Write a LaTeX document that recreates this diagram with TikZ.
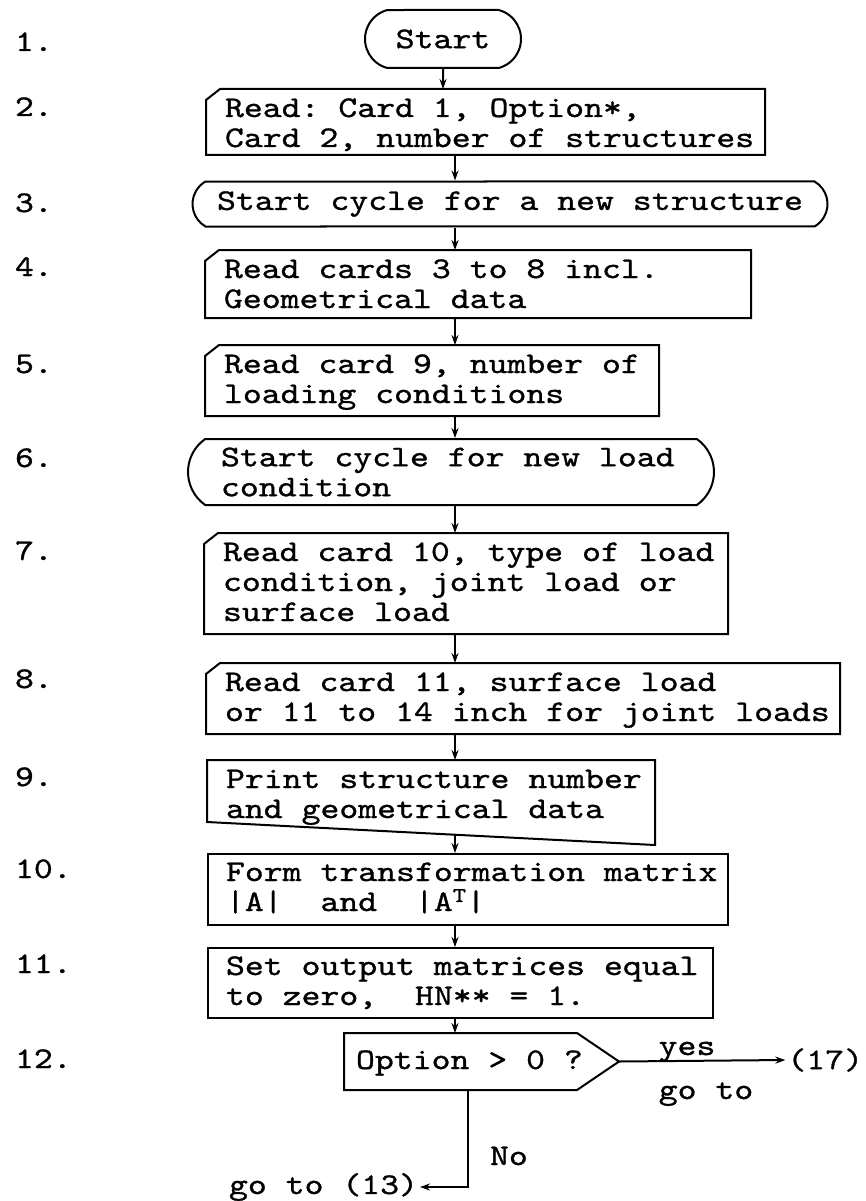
\documentclass[tikz,border=0pt]{standalone}
\usepackage{fontspec}
\setmonofont{lmmono10-regular}[Extension = .otf, FakeStretch = 1.2, FakeBold = 1]
\usetikzlibrary{shapes.misc, arrows.meta}
\tikzstyle{textbox} = [
  rectangle, anchor = north west, align = flush left,
  inner xsep = 0, inner ysep = 0, text height = 27pt,
  execute at begin node = {\leftskip = 18pt\relax}
]
\tikzstyle{box} = [textbox, draw]
\tikzstyle{card} = [
  textbox,
  append after command = {\pgfextra{\draw (\tikzlastnode.north west)
    ++(0pt, -11pt) -- ++(14pt, 11pt) -- (\tikzlastnode.north east) --
    (\tikzlastnode.south east) -- (\tikzlastnode.south west) -- cycle;}}
]
\tikzstyle{printout} = [
  textbox,
  append after command = {\pgfextra{\draw (\tikzlastnode.north west) --
    (\tikzlastnode.north east) -- (\tikzlastnode.south east) --
    ([yshift = 23pt] \tikzlastnode.south west) -- cycle;}}
]
\tikzstyle{terminal} = [
  rounded rectangle, rounded rectangle arc length = 120,
  draw, inner sep = 0
]
\tikzstyle{decision} = [
  rectangle, anchor = north west, align = flush left,
  inner xsep = 0, inner ysep = 0, text height = 35pt, text depth = 20pt,
  execute at begin node = {\leftskip = 11pt\relax},
  append after command = {\pgfextra{\draw (\tikzlastnode.north west) --
    ([xshift = -42pt] \tikzlastnode.north east) -- (\tikzlastnode.east) --
    ([xshift = -42pt] \tikzlastnode.south east) --
    (\tikzlastnode.south west) -- cycle;}}
]
\tikzstyle{steplabel} = [anchor = base west, inner sep = 0]
\tikzstyle{textarea} = [inner sep = 1pt]

\begin{document}
\begin{tikzpicture}[x = 1pt, y = -1pt, line width = 2pt,
    > = {Stealth[length = 10pt, width = 7pt]},
    font = \ttfamily\fontsize{30pt}{30pt}\selectfont]
  \useasboundingbox (0, 0) rectangle (865, 1201);
  \coordinate (spine) at (455, 0);

  % step numbers
  \node [steplabel] (step-1) at (14, 51) {1.};
  \node [steplabel] (step-2) at (14, 116) {2.};
  \node [steplabel] (step-3) at (14, 212) {3.};
  \node [steplabel] (step-4) at (14, 276) {4.};
  \node [steplabel] (step-5) at (14, 373) {5.};
  \node [steplabel] (step-6) at (14, 467) {6.};
  \node [steplabel] (step-7) at (14, 560) {7.};
  \node [steplabel] (step-8) at (14, 688) {8.};
  \node [steplabel] (step-9) at (14, 786) {9.};
  \node [steplabel] (step-10) at (14, 878) {10.};
  \node [steplabel] (step-11) at (14, 973) {11.};
  \node [steplabel] (step-12) at (14, 1068) {12.};

  % 1
  \node [terminal, rounded rectangle arc length = 150,
    minimum width = 156, minimum height = 58] (box-1) at (443, 39) {Start};
  % 2
  \node [card, text width = 557, text depth = 37pt] (box-2) at (206, 89)
    {Read: Card 1, Option*,\\Card 2, number of structures};
  % 3
  \node [terminal, minimum width = 635, minimum height = 45] (box-3)
    at (510, 204) {Start cycle for a new structure};
  % 4
  \node [card, text width = 544, text depth = 39pt] (box-4) at (205, 250)
    {Read cards 3 to 8 incl.\\Geometrical data};
  % 5
  \node [card, text width = 452, text depth = 42pt] (box-5) at (205, 345)
    {Read card 9, number of\\loading conditions};
  % 6
  \node [terminal, rounded rectangle arc length = 110, text width = 460,
    align = flush left, minimum width = 526, minimum height = 66] (box-6)
    at (451, 472) {Start cycle for new load\\condition};
  % 7
  \node [card, text width = 522, text depth = 72pt] (box-7) at (204, 533)
    {Read card 10, type of load\\condition, joint load or\\surface load};
  % 8
  \node [card, text width = 632, text depth = 42pt] (box-8) at (206, 663)
    {Read card 11, surface load\\or 11 to 14 inch for joint loads};
  % 9
  \node [printout, text width = 446, text depth = 56pt] (box-9) at (207, 760)
    {Print structure number\\and geometrical data};
  % 10
  \node [box, text width = 520, text depth = 44pt] (box-10) at (207, 853)
    {Form transformation matrix\\|A|~~and~~|A\textsuperscript{T}|};
  % 11
  \node [box, text width = 505, text depth = 43pt] (box-11) at (207, 947)
    {Set output matrices equal\\to zero,~~HN** = 1.};
  % 12
  \node [decision, text width = 273] (box-12) at (344, 1033) {Option > 0 ?};

  % branches of 12
  \node [textarea, anchor = east] (goto-17) at (865, 1060) {(17)};
  \node [textarea, anchor = base] (yes) at (687, 1055) {yes};
  \node [textarea, anchor = base] (goto-yes) at (706, 1099) {go to};
  \node [textarea, anchor = base west] (no) at (488, 1165) {No};
  \node [textarea, anchor = east] (goto-13) at (420, 1187) {go to (13)};
  \coordinate (no-bend) at (468, 1187);

  \draw [->] (box-1) -- (box-1 |- box-2.north);
  \draw [->] (spine |- box-2.south) -- (spine |- box-3.north);
  \draw [->] (spine |- box-3.south) -- (spine |- box-4.north);
  \draw [->] (spine |- box-4.south) -- (spine |- box-5.north);
  \draw [->] (spine |- box-5.south) -- (spine |- box-6.north);
  \draw [->] (spine |- box-6.south) -- (spine |- box-7.north);
  \draw [->] (spine |- box-7.south) -- (spine |- box-8.north);
  \draw [->] (spine |- box-8.south) -- (spine |- box-9.north);
  \draw [->] ([yshift = 10pt] spine |- box-9.south) -- (spine |- box-10.north);
  \draw [->] (spine |- box-10.south) -- (spine |- box-11.north);
  \draw [->] (spine |- box-11.south) -- (spine |- box-12.north);
  \draw [->] (box-12.east) -- (goto-17.west);
  \draw [->] (box-12.south -| no-bend) -- (no-bend) -- (goto-13.east);
\end{tikzpicture}
\end{document}
